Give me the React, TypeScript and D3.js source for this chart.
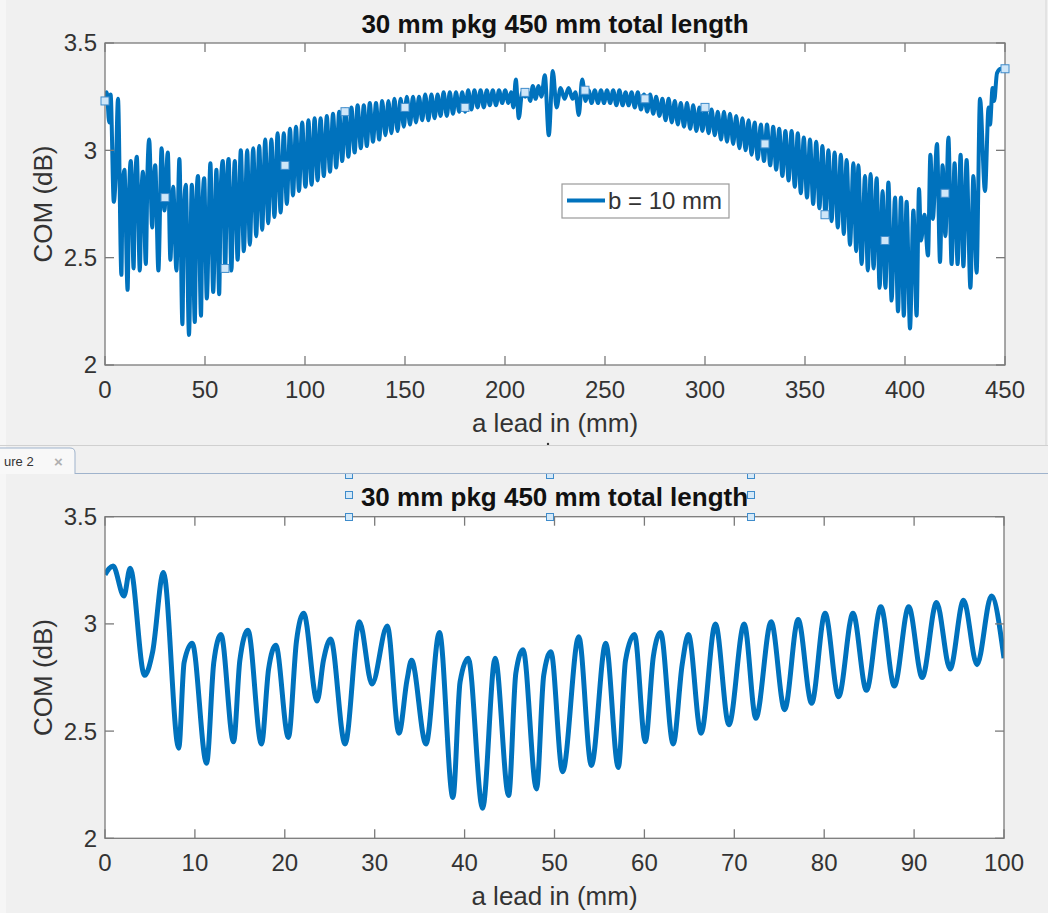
import React from 'react';
import * as d3 from 'd3';

// ---- data ----
const ZOOM_X = [0.0, 0.9, 2.1, 2.8, 4.4, 5.3, 6.5, 8.2, 8.8, 9.7, 11.3, 12.1, 12.9, 14.3, 15.0, 15.9, 17.4, 18.2, 19.0, 20.4, 21.3, 22.1, 23.6, 24.3, 25.1, 26.7, 28.3, 29.7, 31.4, 32.7, 33.6, 34.1, 35.7, 37.2, 38.7, 39.5, 40.4, 42.0, 43.4, 44.9, 45.7, 46.5, 48.0, 48.8, 49.6, 50.9, 52.7, 54.1, 55.7, 57.1, 57.9, 58.9, 60.1, 61.0, 61.8, 63.2, 64.2, 64.9, 66.3, 67.9, 69.4, 71.1, 72.4, 74.1, 75.6, 77.1, 78.6, 80.1, 81.6, 83.2, 84.7, 86.3, 87.8, 89.4, 90.9, 92.5, 94.0, 95.5, 97.0, 98.6, 100.0];
const ZOOM_Y = [3.23, 3.27, 3.13, 3.26, 2.76, 2.87, 3.24, 2.42, 2.82, 2.91, 2.35, 2.82, 2.95, 2.45, 2.83, 2.97, 2.44, 2.79, 2.90, 2.47, 2.92, 3.05, 2.64, 2.83, 2.93, 2.44, 3.01, 2.72, 2.99, 2.49, 2.74, 2.83, 2.44, 2.96, 2.19, 2.73, 2.84, 2.14, 2.84, 2.20, 2.77, 2.88, 2.23, 2.76, 2.87, 2.31, 2.94, 2.34, 2.91, 2.33, 2.83, 2.95, 2.45, 2.85, 2.96, 2.44, 2.81, 2.95, 2.49, 3.00, 2.53, 3.00, 2.56, 3.01, 2.60, 3.02, 2.63, 3.05, 2.66, 3.05, 2.69, 3.08, 2.71, 3.08, 2.75, 3.10, 2.79, 3.11, 2.81, 3.13, 2.84];

const TAIL_X = [100.3, 101.7, 103.3, 104.8, 106.3, 107.8, 109.4, 110.9, 112.5, 114.0, 115.6, 117.1, 118.6, 120.1, 121.7, 123.2, 124.8, 126.3, 127.9, 129.4, 130.9, 132.4, 134.0, 135.5, 137.1, 138.6, 140.2, 141.7, 143.2, 144.7, 146.3, 147.8, 149.4, 150.9, 152.5, 154.0, 155.5, 157.0, 158.6, 160.1, 161.7, 163.2, 164.8, 166.3, 167.8, 169.3, 170.9, 172.4, 174.0, 175.5, 177.1, 178.6, 180.1, 181.6, 183.2, 184.7, 186.3, 187.8, 189.4, 190.9, 192.4, 193.9, 195.5, 197.0, 198.6, 200.1, 201.7,
  203.0, 204.2, 205.4, 206.9, 208.6, 210.1, 211.4, 212.6, 213.9, 215.3, 216.8, 218.2, 219.9, 221.9, 223.9, 225.8, 227.8, 229.8, 231.8, 233.8, 235.2, 236.9, 238.6, 240.3, 241.8, 243.3,
  244.9, 246.5, 248.0, 249.5, 251.0, 252.6, 254.1, 255.7, 257.2, 258.8, 260.3, 261.8, 263.3, 264.9, 266.4, 268.0, 269.5, 271.1, 272.6, 274.1, 275.6, 277.2, 278.7, 280.3, 281.8, 283.4, 284.9, 286.4, 287.9, 289.5, 291.0, 292.6, 294.1, 295.7, 297.2, 298.7, 300.2, 301.8, 303.3, 304.9, 306.4, 308.0, 309.5, 311.0, 312.5, 314.1, 315.6, 317.2, 318.7, 320.3, 321.8, 323.3, 324.8, 326.4, 327.9, 329.5, 331.0, 332.6, 334.1, 335.6, 337.1, 338.7, 340.2, 341.8, 343.3, 344.9, 346.4, 347.9, 349.4, 351.0, 352.5, 354.1, 355.6, 357.2, 358.7, 360.2, 361.7, 363.3, 364.8, 366.4, 367.9, 369.4,
  370.8, 372.5, 374.2, 375.6, 376.7, 378.3, 380.0, 381.4, 382.8, 384.3, 385.8, 387.3, 388.8, 390.2, 391.7, 393.3, 395.0, 396.5, 398.0, 399.4, 400.8, 402.5, 404.2, 405.8, 407.0, 408.0, 409.7, 411.5, 412.7, 413.9, 416.0, 417.5, 418.8, 420.2, 421.7, 423.3, 424.8, 426.3, 427.8, 429.2, 430.8, 432.7, 434.2, 435.8, 437.5, 440.0, 441.8, 442.5, 443.8, 444.6, 446.0, 448.0, 450.0];
const TAIL_Y = [2.83, 3.14, 2.84, 3.15, 2.86, 3.15, 2.88, 3.16, 2.90, 3.17, 2.92, 3.18, 2.95, 3.19, 2.97, 3.20, 2.99, 3.21, 3.01, 3.21, 3.02, 3.22, 3.04, 3.22, 3.05, 3.23, 3.07, 3.23, 3.08, 3.24, 3.09, 3.24, 3.11, 3.25, 3.12, 3.25, 3.13, 3.25, 3.14, 3.26, 3.14, 3.26, 3.15, 3.26, 3.16, 3.27, 3.16, 3.27, 3.17, 3.27, 3.18, 3.27, 3.18, 3.28, 3.19, 3.28, 3.20, 3.28, 3.20, 3.28, 3.21, 3.28, 3.21, 3.28, 3.22, 3.28, 3.22,
  3.27, 3.20, 3.33, 3.15, 3.27, 3.25, 3.27, 3.23, 3.30, 3.24, 3.30, 3.25, 3.35, 3.07, 3.37, 3.20, 3.29, 3.24, 3.29, 3.24, 3.27, 3.165, 3.33, 3.23, 3.28, 3.22,
  3.28, 3.22, 3.28, 3.22, 3.28, 3.22, 3.28, 3.21, 3.28, 3.21, 3.27, 3.21, 3.27, 3.20, 3.27, 3.19, 3.26, 3.18, 3.26, 3.17, 3.25, 3.16, 3.24, 3.14, 3.24, 3.13, 3.23, 3.12, 3.22, 3.11, 3.22, 3.10, 3.21, 3.09, 3.20, 3.09, 3.20, 3.08, 3.19, 3.07, 3.18, 3.05, 3.18, 3.04, 3.17, 3.03, 3.16, 3.01, 3.15, 3.00, 3.14, 2.98, 3.13, 2.96, 3.12, 2.95, 3.12, 2.93, 3.11, 2.91, 3.10, 2.88, 3.09, 2.86, 3.09, 2.83, 3.08, 2.80, 3.06, 2.78, 3.05, 2.75, 3.04, 2.73, 3.02, 2.70, 3.00, 2.67, 2.99, 2.64, 2.98, 2.61,
  2.955, 2.56, 2.94, 2.53, 2.93, 2.47, 2.88, 2.44, 2.89, 2.45, 2.87, 2.36, 2.81, 2.36, 2.85, 2.30, 2.78, 2.25, 2.78, 2.23, 2.76, 2.17, 2.72, 2.23, 2.82, 2.58, 2.70, 2.51, 2.98, 2.68, 3.03, 2.48, 2.93, 2.60, 3.06, 2.47, 2.94, 2.47, 2.98, 2.46, 2.955, 2.36, 2.88, 2.43, 3.24, 2.81, 3.20, 3.12, 3.29, 3.23, 3.36, 3.38, 3.38];

const MARK_X = [0, 30, 60, 90, 120, 150, 180, 210, 240, 270, 300, 330, 360, 390, 420, 450];
const MARK_Y = [3.23, 2.78, 2.45, 2.93, 3.18, 3.20, 3.20, 3.27, 3.28, 3.24, 3.20, 3.03, 2.70, 2.58, 2.80, 3.38];

const TOP_XTICKS = [0, 50, 100, 150, 200, 250, 300, 350, 400, 450];
const BOT_XTICKS = [0, 10, 20, 30, 40, 50, 60, 70, 80, 90, 100];
const YTICKS = [2, 2.5, 3, 3.5];
const TITLE = '30 mm pkg 450 mm total length';
const XLABEL = 'a lead in (mm)';
const YLABEL = 'COM (dB)';
const LEGEND = 'b = 10 mm';

const BLUE = '#0072BD';
const FONT = '"Liberation Sans", Arial, Helvetica, sans-serif';
const AXC = '#7a7a7a';
const TXT = '#333333';

type Pt = [number, number];

function Axes(props: {
  id: string; left: number; right: number; top: number; bottom: number;
  xmax: number; xticks: number[]; data: Pt[]; lw: number; titleY: number;
}) {
  const { id, left, right, top, bottom, xmax, xticks, data, lw, titleY } = props;
  const x = d3.scaleLinear().domain([0, xmax]).range([left, right]);
  const y = d3.scaleLinear().domain([2, 3.5]).range([bottom, top]);
  const line = d3.line<Pt>().x(d => x(d[0])).y(d => y(d[1])).curve(d3.curveMonotoneX);
  const tl = 9;
  const cx = (left + right) / 2;
  return (
    <g>
      <defs>
        <clipPath id={id}>
          <rect x={left} y={top} width={right - left} height={bottom - top} />
        </clipPath>
      </defs>
      <rect x={left} y={top} width={right - left} height={bottom - top} fill="#ffffff" />
      <path d={line(data) || ''} fill="none" stroke={BLUE} strokeWidth={lw} strokeLinejoin="round" clipPath={`url(#${id})`} />
      <rect x={left} y={top} width={right - left} height={bottom - top} fill="none" stroke={AXC} strokeWidth={1.3} />
      {xticks.map(t => (
        <g key={'x' + t}>
          <line x1={x(t)} x2={x(t)} y1={bottom} y2={bottom - tl} stroke={AXC} strokeWidth={1.3} />
          <line x1={x(t)} x2={x(t)} y1={top} y2={top + tl} stroke={AXC} strokeWidth={1.3} />
          <text x={x(t)} y={bottom + 33} textAnchor="middle" fontSize={24} fill={TXT} fontFamily={FONT}>{String(t)}</text>
        </g>
      ))}
      {YTICKS.map(t => (
        <g key={'y' + t}>
          <line x1={left} x2={left + tl} y1={y(t)} y2={y(t)} stroke={AXC} strokeWidth={1.3} />
          <line x1={right} x2={right - tl} y1={y(t)} y2={y(t)} stroke={AXC} strokeWidth={1.3} />
          <text x={left - 8} y={y(t)} dy="0.35em" textAnchor="end" fontSize={24} fill={TXT} fontFamily={FONT}>{String(t)}</text>
        </g>
      ))}
      <text x={cx} y={bottom + 67} textAnchor="middle" fontSize={26} fill={TXT} fontFamily={FONT}>{XLABEL}</text>
      <text transform={`translate(${43},${(top + bottom) / 2}) rotate(-90)`} dy="0.35em" textAnchor="middle" fontSize={26} fill={TXT} fontFamily={FONT}>{YLABEL}</text>
      <text x={cx} y={titleY} textAnchor="middle" fontSize={26} fontWeight="bold" fill="#111" fontFamily={FONT}>{TITLE}</text>
    </g>
  );
}

export default function App() {
  const zoomData: Pt[] = ZOOM_X.map((v, i) => [v, ZOOM_Y[i]]);
  const fullData: Pt[] = zoomData.concat(TAIL_X.map((v, i) => [v, TAIL_Y[i]] as Pt));
  const xTop = d3.scaleLinear().domain([0, 450]).range([105, 1005]);
  const yTop = d3.scaleLinear().domain([2, 3.5]).range([365, 43]);
  const handles: Pt[] = [[349, 475], [550, 475], [751, 475], [349, 495], [751, 495], [349, 517], [550, 517], [751, 517]];
  return (
    <svg width={1048} height={913} style={{ position: 'absolute', left: 0, top: 0, background: '#f0f0f0' }}>
      <rect x={0} y={0} width={1048} height={913} fill="#f0f0f0" />
      <rect x={0} y={0} width={6} height={913} fill="#f6f6f6" />
      {/* top figure */}
      <line x1={1046} x2={1046} y1={0} y2={445} stroke="#d6d6d6" strokeWidth={1} />
      <Axes id="clipTop" left={105} right={1005} top={43} bottom={365} xmax={450} xticks={TOP_XTICKS} data={fullData} lw={4} titleY={33} />
      {MARK_X.map((m, i) => (
        <rect key={'m' + i} x={xTop(m) - 4} y={yTop(MARK_Y[i]) - 4} width={8} height={8} fill="#cfe6f8" stroke="#3f8ccb" strokeWidth={1} />
      ))}
      {/* legend */}
      <rect x={562} y={184} width={167} height={34} fill="#ffffff" stroke="#9a9a9a" strokeWidth={1.2} />
      <line x1={567} x2={605} y1={200.5} y2={200.5} stroke={BLUE} strokeWidth={4} />
      <text x={608} y={209} fontSize={24} fill={TXT} fontFamily={FONT}>{LEGEND}</text>
      <circle cx={548} cy={444} r={1.2} fill="#333" />
      {/* separator and tab */}
      <line x1={0} x2={1048} y1={445.5} y2={445.5} stroke="#d0d0d0" strokeWidth={1} />
      <path d="M -2 474 L -2 448 L 70 448 Q 75 448 75 453 L 75 474" fill="#f8f8f8" stroke="#9fb3cc" strokeWidth={1} />
      <line x1={75} x2={1048} y1={473.5} y2={473.5} stroke="#9fb3cc" strokeWidth={1} />
      <text x={4} y={466} fontSize={13} fill="#333" fontFamily={FONT}>ure 2</text>
      <text x={54} y={467} fontSize={15} fill="#b0b0b0" fontWeight="bold" fontFamily={FONT}>×</text>
      {/* bottom figure */}
      <Axes id="clipBot" left={105} right={1004} top={516.7} bottom={838.3} xmax={100} xticks={BOT_XTICKS} data={zoomData} lw={5} titleY={506} />
      {handles.map((h, i) => (
        <rect key={'h' + i} x={h[0] - 3.5} y={h[1] - 3.5} width={7} height={7} fill="#d5e9f8" stroke="#3f8ccb" strokeWidth={1} clipPath="url(#belowTab)" />
      ))}
      <defs>
        <clipPath id="belowTab">
          <rect x={0} y={474} width={1048} height={440} />
        </clipPath>
      </defs>
    </svg>
  );
}
